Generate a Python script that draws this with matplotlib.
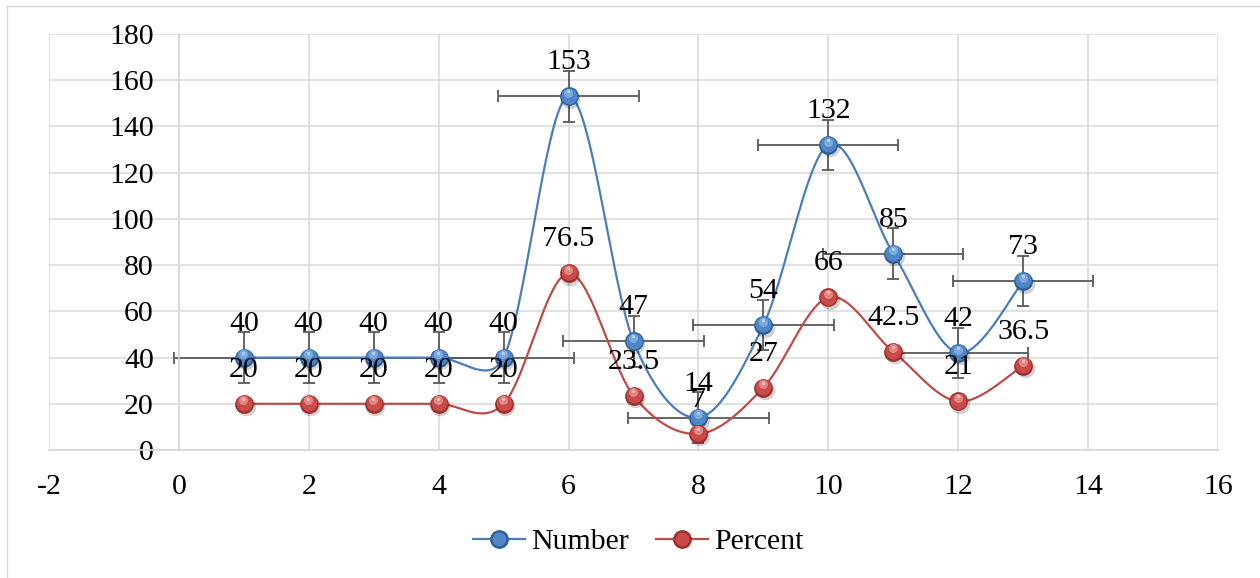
import numpy as np
import matplotlib.pyplot as plt
from matplotlib import transforms
from matplotlib.lines import Line2D

# data
x = [1, 2, 3, 4, 5, 6, 7, 8, 9, 10, 11, 12, 13]
number = [40, 40, 40, 40, 40, 153, 47, 14, 54, 132, 85, 42, 73]
percent = [20, 20, 20, 20, 20, 76.5, 23.5, 7, 27, 66, 42.5, 21, 36.5]
number_xerr = 1.08
number_yerr = 10.9
xticks = [-2, 0, 2, 4, 6, 8, 10, 12, 14, 16]
yticks = [0, 20, 40, 60, 80, 100, 120, 140, 160, 180]
series_names = ["Number", "Percent"]

plt.rcParams['font.family'] = ['Liberation Serif', 'DejaVu Serif']
plt.rcParams['axes.unicode_minus'] = False
fs = 21.5

W, H = 1260, 578
fig = plt.figure(figsize=(W / 100, H / 100), dpi=100)
ax = fig.add_axes([49 / W, 1 - 450 / H, (1218 - 49) / W, (450 - 34) / H])
ax.set_xlim(-2, 16)
ax.set_ylim(0, 180)
ax.set_xticks(xticks)
ax.set_yticks(yticks)
ax.grid(True, color='#d9d9d9', lw=1.1, zorder=0)
ax.set_axisbelow(True)

for s in ['top', 'right']:
    ax.spines[s].set_visible(False)
ax.spines['left'].set_position(('data', 0))
ax.spines['left'].set_color('#d9d9d9')
ax.spines['bottom'].set_color('#d9d9d9')
ax.spines['left'].set_linewidth(1.1)
ax.spines['bottom'].set_linewidth(1.3)
ax.tick_params(axis='both', length=0, labelsize=fs, colors='black')
ax.tick_params(axis='y', pad=18)
ax.tick_params(axis='x', pad=17)


def smooth(xs, ys):
    # excel-like bezier smoothing, done in pixel space
    pts = ax.transData.transform(np.column_stack([xs, ys]))
    n = len(pts)
    out = [pts[0]]
    t = np.linspace(0, 1, 40)[1:, None]
    for i in range(n - 1):
        p0 = pts[max(i - 1, 0)]
        p1 = pts[i]
        p2 = pts[i + 1]
        p3 = pts[min(i + 2, n - 1)]
        d12 = np.hypot(*(p2 - p1))
        d02 = np.hypot(*(p2 - p0))
        d13 = np.hypot(*(p3 - p1))
        f0 = 1 / 6 if d02 / 6 < d12 / 2 else d12 / 2 / d02
        f1 = 1 / 6 if d13 / 6 < d12 / 2 else d12 / 2 / d13
        c1 = p1 + (p2 - p0) * f0
        c2 = p2 - (p3 - p1) * f1
        seg = (1 - t)**3 * p1 + 3 * (1 - t)**2 * t * c1 + 3 * (1 - t) * t**2 * c2 + t**3 * p2
        out.extend(seg)
    return ax.transData.inverted().transform(np.array(out))


def off(dx, dy):
    return transforms.offset_copy(ax.transData, fig=fig, x=dx, y=dy, units='points')


def sphere(xs, ys, dark, mid, light, z):
    ax.plot(xs, ys, 'o', ms=14, color='#000000', alpha=0.18, mec='none',
            transform=off(1.2, -1.8), zorder=z)
    ax.plot(xs, ys, 'o', ms=13.5, color=dark, mec='none', zorder=z + 0.1)
    ax.plot(xs, ys, 'o', ms=11.5, color=mid, mec='none',
            transform=off(0, 0.6), zorder=z + 0.2)
    ax.plot(xs, ys, 'o', ms=6.5, color=light, mec='none', alpha=0.7,
            transform=off(-0.3, 2.4), zorder=z + 0.3)
    ax.plot(xs, ys, 'o', ms=2.4, color='white', mec='none', alpha=0.45,
            transform=off(-0.4, 3.6), zorder=z + 0.4)


blue = '#4a7ebb'
red = '#be4b48'

ax.errorbar(x, number, xerr=number_xerr, yerr=number_yerr, fmt='none',
            ecolor='#595959', elinewidth=1.3, capsize=4, capthick=1.3, zorder=2)

sb = smooth(x, number)
ax.plot(sb[:, 0], sb[:, 1], color=blue, lw=1.6, zorder=3)
sphere(x, number, '#2d5e99', '#4f86c8', '#8db8ea', 4)

sr = smooth(x, percent)
ax.plot(sr[:, 0], sr[:, 1], color=red, lw=1.6, zorder=5)
sphere(x, percent, '#9b2d2a', '#c94a46', '#eca19e', 6)

for xi, v in zip(x, number):
    ax.annotate(f'{v:g}', (xi, v), xytext=(0, 24.5), textcoords='offset points',
                ha='center', va='center', fontsize=fs, zorder=8)
for xi, v in zip(x, percent):
    ax.annotate(f'{v:g}', (xi, v), xytext=(0, 24.5), textcoords='offset points',
                ha='center', va='center', fontsize=fs, zorder=8)

h1 = (Line2D([], [], color=blue, lw=1.6),
      Line2D([], [], marker='o', ms=13.5, color='#2d5e99', ls='none', mec='none'),
      Line2D([], [], marker='o', ms=10, color='#4f86c8', ls='none', mec='none'))
h2 = (Line2D([], [], color=red, lw=1.6),
      Line2D([], [], marker='o', ms=13.5, color='#9b2d2a', ls='none', mec='none'),
      Line2D([], [], marker='o', ms=10, color='#c94a46', ls='none', mec='none'))
fig.legend([h1, h2], series_names, loc='center', bbox_to_anchor=(638 / W, 1 - 542 / H),
           ncol=2, frameon=False, fontsize=fs, handlelength=1.75, handletextpad=0.2,
           columnspacing=0.9)

# outer chart border
fig.add_artist(Line2D([7 / W, 7 / W], [0, 1 - 5.5 / H], transform=fig.transFigure,
                      color='#d9d9d9', lw=1))
fig.add_artist(Line2D([7 / W, 1], [1 - 5.5 / H, 1 - 5.5 / H], transform=fig.transFigure,
                      color='#d9d9d9', lw=1))

fig.savefig('out.png', dpi=100)
